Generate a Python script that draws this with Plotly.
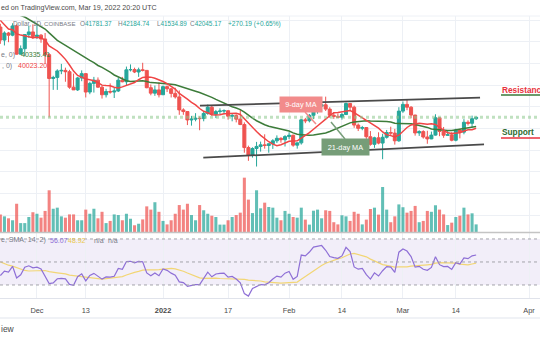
import pandas as pd
import plotly.graph_objects as go

# ---------------- data ----------------
dates = pd.date_range("2021-11-22", "2022-03-19", freq="D")

open_ = [58700, 56300, 57600, 57200, 58900, 53700, 54700, 57300, 57800,
         56950, 57200, 56500, 53600, 49200, 49400, 50600, 50700, 50450, 47600, 47100, 49300,
         50100, 46700, 48300, 48900, 47600, 46200, 46800, 46700, 46900, 48900, 48600, 50800,
         50850, 50400, 50800, 50700, 47500, 46500, 47100,
         46200, 47700, 47300, 46450, 45800, 43400, 43100, 41550, 41700, 41850, 41800, 42750,
         43900, 42600, 43100, 43200, 43250, 42250, 42350, 41700, 40700, 36450, 35050, 36280,
         36660, 36950, 36830, 37150, 37700, 38160, 37900,
         38480, 38720, 36900, 37320, 41570, 41400, 42400, 43850, 44100, 44350, 43550, 42400,
         42200, 42050, 42550, 44580, 43900, 40600, 40000, 40150, 38450, 37050, 38250, 37280,
         38350, 39230, 39120, 37700,
         43180, 44420, 43900, 42450, 39150, 39400, 38400, 38050, 38750, 41950, 39430, 38730,
         38800, 37800, 39680, 39300, 41120, 40930, 41781.37]
high = [59300, 57900, 57800, 59400, 59200, 55300, 57400, 58900, 59200,
        59050, 57400, 57600, 53900, 49700, 50900, 51900, 51200, 50800, 50100, 49500, 50700,
        50200, 48600, 49500, 49400, 47900, 47300, 48300, 47500, 49300, 49500, 51400, 51800,
        51200, 51200, 52100, 50700, 48100, 47900, 48500,
        47900, 47900, 47500, 47500, 47000, 43700, 43100, 42300, 42800, 42200, 43100, 44400,
        44300, 43400, 43700, 43500, 43300, 42700, 42600, 43500, 41100, 36800, 36500, 37500,
        37550, 38900, 37200, 38000, 38700, 38350, 38750,
        39270, 38840, 37400, 41750, 41930, 42650, 44500, 45500, 44800, 45850, 43900, 43000,
        42750, 42850, 44750, 44580, 44200, 40900, 40450, 40180, 39500, 38450, 39270, 39000,
        39700, 40300, 39900, 43900,
        44950, 45400, 44100, 42500, 39650, 39650, 39550, 39400, 42600, 42050, 40250, 39500,
        39300, 39950, 39900, 41700, 41480, 42350, 42184.74]
low = [55600, 55300, 55900, 57000, 53600, 53600, 53300, 56700, 56500,
       56500, 55800, 52000, 42000, 47100, 47100, 50000, 48600, 47300, 47300, 46900, 48700,
       45700, 46300, 46600, 47500, 45500, 45700, 46400, 45600, 46700, 48500, 47900, 50500,
       50200, 49500, 50500, 47400, 46100, 46000, 45700,
       46200, 46700, 45700, 45500, 42500, 42500, 40600, 40500, 41300, 39650, 41300, 42500,
       42300, 41900, 42600, 42600, 41600, 41300, 41100, 40600, 35500, 34000, 34600, 32950,
       35700, 36250, 35500, 36200, 37300, 37350, 36650,
       38000, 36600, 36250, 37000, 40950, 41100, 41700, 42700, 43150, 43200, 41950, 41750,
       41900, 41600, 42450, 43350, 40100, 39500, 39650, 38050, 36800, 36400, 37050, 34300,
       38100, 38600, 37000, 37500,
       42850, 43350, 41850, 38650, 38600, 38100, 37150, 38000, 38650, 38550, 38250, 38650,
       37600, 37600, 38150, 38900, 40530, 40200, 41534.89]
close = [56300, 57600, 57200, 58900, 53700, 54700, 57300, 57800, 56950,
         57200, 56500, 53600, 49200, 49400, 50600, 50700, 50450, 47600, 47100, 49300, 50100,
         46700, 48300, 48900, 47600, 46200, 46800, 46700, 46900, 48900, 48600, 50800, 50850,
         50400, 50800, 50700, 47500, 46500, 47100, 46200,
         47700, 47300, 46450, 45800, 43400, 43100, 41550, 41700, 41850, 41800, 42750, 43900,
         42600, 43100, 43200, 43250, 42250, 42350, 41700, 40700, 36450, 35050, 36280, 36660,
         36950, 36830, 37150, 37700, 38160, 37900, 38480,
         38720, 36900, 37320, 41570, 41400, 42400, 43850, 44100, 44350, 43550, 42400, 42200,
         42050, 42550, 44580, 43900, 40600, 40000, 40150, 38450, 37050, 38250, 37280, 38350,
         39230, 39120, 37700, 43180,
         44420, 43900, 42450, 39150, 39400, 38400, 38050, 38750, 41950, 39430, 38730, 38800,
         37800, 39680, 39300, 41120, 40930, 41774.98, 42045.17]
# volume, thousand BTC
volume = [8.1, 7.2, 6.3, 5.4, 13.0, 4.1, 4.1, 6.9, 9.1,
          8.4, 6.6, 9.7, 19.2, 10.7, 11.2, 7.2, 6.6, 8.1, 8.1, 5.4, 5.4,
          10.3, 8.4, 10.7, 6.3, 9.3, 4.1, 5.1, 8.1, 7.8, 5.4, 8.4, 6.1,
          3.1, 3.8, 5.8, 11.8, 10.3, 13.7, 9.3,
          5.1, 3.5, 5.4, 8.4, 12.4, 10.3, 13.0, 7.8, 5.4, 12.4, 10.0, 8.4,
          7.5, 6.9, 3.4, 3.4, 5.4, 6.9, 7.8, 8.9, 25.0, 14.9, 8.7, 19.2,
          10.9, 13.5, 11.5, 11.2, 6.6, 5.4, 9.7,
          8.4, 6.9, 6.6, 11.2, 5.7, 3.4, 9.8, 10.3, 6.3, 10.0, 9.7, 4.5,
          3.5, 7.7, 7.2, 5.1, 9.3, 8.4, 3.5, 5.7, 10.6, 11.2, 8.0, 20.7,
          10.3, 4.5, 7.2, 12.7,
          11.4, 8.9, 9.7, 12.0, 4.5, 5.1, 9.7, 9.3, 12.3, 10.3, 8.1, 3.2,
          4.3, 6.9, 7.5, 11.2, 8.1, 8.6, 3.5]
# closes 1 Oct – 21 Nov 2021 (indicator warm-up only)
prior_close = [48100, 47700, 48200, 49200, 51500, 55300, 53800, 53950, 54950, 54700,
               57500, 56000, 57400, 57350, 61700, 60900, 61500, 62000, 64300, 66000,
               62200, 60700, 61300, 60850, 63100, 60350, 58450, 60600, 62250, 61900, 61300,
               61000, 63250, 62950, 61450, 61000, 61500, 63300, 67550, 66950, 64950,
               64850, 64150, 64400, 65500, 63600, 60150, 60350, 56900, 58100, 59700, 58700]

tick_dates = ["2021-12-01", "2021-12-13", "2022-01-01", "2022-01-17", "2022-02-01",
              "2022-02-14", "2022-03-01", "2022-03-14", "2022-04-01"]
tick_labels = ["Dec", "13", "<b>2022</b>", "17", "Feb", "14", "Mar", "14", "Apr"]

channel_upper_dates = ["2022-01-10 02:00", "2022-03-19 23:00"]
channel_upper_prices = [44179, 45656]
channel_lower_dates = ["2022-01-10 21:40", "2022-03-20 22:30"]
channel_lower_prices = [34580, 37054]
last_price = 42045.17

# ---------------- indicators ----------------
allc = pd.Series(prior_close + close, dtype=float)
n0 = len(prior_close)
ma9 = allc.rolling(9).mean().iloc[n0:].values
ma21 = allc.rolling(21).mean().iloc[n0:].values
d = allc.diff()
up = d.clip(lower=0).ewm(alpha=1 / 14, adjust=False).mean()
dn = (-d.clip(upper=0)).ewm(alpha=1 / 14, adjust=False).mean()
rsi = 100 - 100 / (1 + up / dn)
rsi_ma = rsi.rolling(14).mean()
rsi = rsi.iloc[n0:].values
rsi_ma = rsi_ma.iloc[n0:].values

UP = "#26a69a"
DN = "#ef5350"
FONT = "Liberation Sans, Arial, sans-serif"

W, H = 540, 340
def px(x):
    return x / W
def py(y):
    return 1 - y / H

fig = go.Figure()
fig.add_trace(go.Candlestick(
    x=dates, open=open_, high=high, low=low, close=close,
    increasing=dict(line=dict(color=UP, width=1), fillcolor=UP),
    decreasing=dict(line=dict(color=DN, width=1), fillcolor=DN),
    whiskerwidth=0, hoverinfo="skip", showlegend=False, xaxis="x", yaxis="y"))
fig.add_trace(go.Scatter(x=dates, y=ma21, mode="lines", line=dict(color="#3d7c3a", width=1.5),
                         hoverinfo="skip", showlegend=False, xaxis="x", yaxis="y"))
fig.add_trace(go.Scatter(x=dates, y=ma9, mode="lines", line=dict(color="#f04545", width=1.5),
                         hoverinfo="skip", showlegend=False, xaxis="x", yaxis="y"))
vcols = ["rgba(38,166,154,0.72)" if c >= o else "rgba(239,83,80,0.72)" for o, c in zip(open_, close)]
fig.add_trace(go.Bar(x=dates, y=volume, marker=dict(color=vcols, line=dict(width=0)),
                     width=0.75 * 86400000, hoverinfo="skip", showlegend=False,
                     xaxis="x", yaxis="y2"))
fig.add_trace(go.Scatter(x=dates, y=rsi_ma, mode="lines", line=dict(color="#f2d675", width=1.2),
                         hoverinfo="skip", showlegend=False, xaxis="x", yaxis="y3"))
fig.add_trace(go.Scatter(x=dates, y=rsi, mode="lines", line=dict(color="#8e6fd6", width=1.2),
                         hoverinfo="skip", showlegend=False, xaxis="x", yaxis="y3"))

shapes = []
shapes.append(dict(type="rect", xref="paper", yref="y3", x0=0, x1=1, y0=30, y1=70,
                   fillcolor="rgba(126,87,194,0.10)", line=dict(width=0), layer="below"))
for lv in (70, 50, 30):
    shapes.append(dict(type="line", xref="paper", yref="y3", x0=0, x1=1, y0=lv, y1=lv,
                       line=dict(color="#a3a3ab", width=1, dash="3px,3px")))
shapes.append(dict(type="line", xref="paper", yref="paper", x0=0, x1=1, y0=py(232.5), y1=py(232.5),
                   line=dict(color="#c4c4c4", width=1.5)))
shapes.append(dict(type="line", xref="paper", yref="paper", x0=0, x1=1, y0=py(16), y1=py(16),
                   line=dict(color="#eef1f6", width=1)))
shapes.append(dict(type="line", xref="paper", yref="paper", x0=0, x1=1, y0=py(318), y1=py(318),
                   line=dict(color="#f0f2f6", width=2)))
shapes.append(dict(type="line", xref="paper", yref="y", x0=0, x1=1, y0=last_price, y1=last_price,
                   line=dict(color="rgba(140,200,140,0.55)", width=3, dash="dot")))
shapes.append(dict(type="line", xref="x", yref="y",
                   x0=channel_upper_dates[0], x1=channel_upper_dates[1],
                   y0=channel_upper_prices[0], y1=channel_upper_prices[1],
                   line=dict(color="#4a4a4a", width=1.8)))
shapes.append(dict(type="line", xref="x", yref="y",
                   x0=channel_lower_dates[0], x1=channel_lower_dates[1],
                   y0=channel_lower_prices[0], y1=channel_lower_prices[1],
                   line=dict(color="#4a4a4a", width=1.8)))
shapes.append(dict(type="line", xref="paper", yref="paper", x0=px(305), y0=py(112), x1=px(316), y1=py(124),
                   line=dict(color="#f28b8b", width=1.5)))
shapes.append(dict(type="line", xref="paper", yref="paper", x0=px(331), y0=py(122), x1=px(345), y1=py(139),
                   line=dict(color="#769d78", width=1.5)))
shapes.append(dict(type="line", xref="paper", yref="paper", x0=px(501), x1=1, y0=py(95), y1=py(95),
                   line=dict(color="#3a7a3a", width=1.5)))
shapes.append(dict(type="line", xref="paper", yref="paper", x0=px(501), x1=1, y0=py(138), y1=py(138),
                   line=dict(color="#e8323c", width=1.5)))

ann = []
def txt(x, y, s, color="#787b86", size=7, **kw):
    ann.append(dict(xref="paper", yref="paper", x=px(x), y=py(y), text=s, showarrow=False,
                    xanchor=kw.pop("xanchor", "left"), yanchor="middle",
                    font=dict(family=FONT, size=size, color=color), borderpad=0, **kw))

GRAY = "#787b86"
TEAL = "#26a69a"
txt(0, 8, "ed on TradingView.com, Mar 19, 2022 20:20 UTC", color="#4a4a4a", size=7.1)
txt(12, 24, "Dollar, 1D,", color=GRAY, size=6.4)
txt(43, 24, "COINBASE", color=GRAY, size=6.1)
txt(79, 24, f"O<span style='color:{TEAL}'>41781.37</span>", size=6.4)
txt(117, 24, f"H<span style='color:{TEAL}'>42184.74</span>", size=6.4)
txt(156, 24, f"L<span style='color:{TEAL}'>41534.89</span>", size=6.3)
txt(189, 24, f"C<span style='color:{TEAL}'>42045.17</span>", size=6.4)
txt(227, 24, "+270.19 (+0.65%)", color=TEAL, size=6.6)
txt(0, 55, "e, 0)", color=GRAY)
txt(20, 55, "40335.41", color="#3d7c3a")
txt(1, 66, ", 0)", color=GRAY)
txt(17, 66, "40023.20", color="#f04545")
txt(0, 240, "e, SMA, 14, 2)", color=GRAY)
txt(49, 240, "56.07", color="#8e6fd6")
txt(67, 240, "48.92", color="#e9c84e")
txt(93, 240, "n/a", color=GRAY)
txt(107, 240, "n/a", color=GRAY)
txt(0, 329, "iew", color="#4a4a4a", size=8.5)
txt(301, 104.5, "9-day MA", color="white", size=7.3, xanchor="center",
    bgcolor="#f28b8b", width=42, height=15)
txt(345.7, 147.2, "21-day MA", color="white", size=7.3, xanchor="center",
    bgcolor="#769d78", width=47, height=16)
txt(501, 90, "<b>Resistance</b>", color="#e8323c", size=8.3)
txt(501, 132, "<b>Support</b>", color="#2e6b2e", size=8.3)

fig.update_layout(
    width=W, height=H, autosize=False,
    margin=dict(l=0, r=0, t=0, b=0),
    paper_bgcolor="white", plot_bgcolor="white",
    showlegend=False, boxgap=0.14, boxgroupgap=0.14,
    xaxis=dict(type="date", range=["2021-11-21 21:50", "2022-04-03 16:55"], domain=[0, 1],
               anchor="y3", tickvals=tick_dates, ticktext=tick_labels,
               showgrid=True, gridcolor="#edf0f5", gridwidth=1,
               showline=True, linecolor="#e0e3eb", linewidth=1,
               ticks="outside", ticklen=6, tickcolor="rgba(0,0,0,0)",
               tickfont=dict(family=FONT, size=7.4, color="#4a4a4a"),
               rangeslider=dict(visible=False), zeroline=False, fixedrange=True),
    yaxis=dict(domain=[py(232), py(16)], range=[20864, 60738], tick0=0, dtick=4000,
               showgrid=True, gridcolor="#edf0f5", gridwidth=1, showticklabels=False,
               zeroline=False, fixedrange=True),
    yaxis2=dict(overlaying="y", range=[0, 99.4], visible=False, fixedrange=True),
    yaxis3=dict(domain=[py(297.5), py(233)], range=[19.1, 75.2], showgrid=False,
                showticklabels=False, zeroline=False, fixedrange=True),
    shapes=shapes, annotations=ann,
)
fig.write_html("out.html")
